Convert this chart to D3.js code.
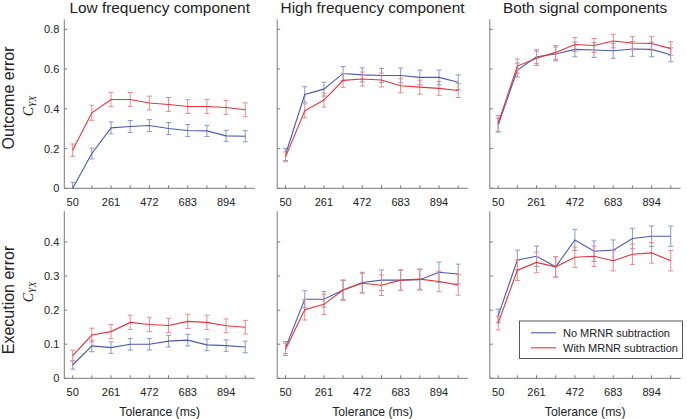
<!DOCTYPE html>
<html><head><meta charset="utf-8">
<script src="https://cdn.jsdelivr.net/npm/d3@7"></script>
<style>body{margin:0;background:#fff}svg{display:block}</style>
</head><body>
<svg id="c" width="687" height="419"></svg>
<script>
// ---- data ----
const tolerance = [50, 155.5, 261, 366.5, 472, 577.5, 683, 788.5, 894, 999.5];
const tickLabels = [50, 261, 472, 683, 894];
const columnTitles = ["Low frequency component", "High frequency component", "Both signal components"];
const rowTitles = ["Outcome error", "Execution error"];
const seriesNames = ["No MRNR subtraction", "With MRNR subtraction"];
const yTicksOutcome = [0, 0.2, 0.4, 0.6, 0.8];
const yTicksExecution = [0, 0.1, 0.2, 0.3, 0.4];

// Outcome error
const outLowNo   = [0.0, 0.175, 0.304, 0.311, 0.316, 0.301, 0.291, 0.289, 0.264, 0.262];
const outLowNoErr= [0.03, 0.027, 0.03, 0.03, 0.03, 0.03, 0.03, 0.028, 0.028, 0.028];
const outLowW    = [0.192, 0.38, 0.447, 0.447, 0.429, 0.422, 0.412, 0.412, 0.407, 0.395];
const outLowWErr = [0.031, 0.038, 0.036, 0.035, 0.035, 0.035, 0.035, 0.035, 0.035, 0.035];
const outHighNo   = [0.17, 0.472, 0.499, 0.578, 0.571, 0.568, 0.568, 0.558, 0.558, 0.534];
const outHighNoErr= [0.03, 0.039, 0.035, 0.035, 0.035, 0.035, 0.037, 0.037, 0.037, 0.037];
const outHighW    = [0.158, 0.39, 0.444, 0.543, 0.55, 0.545, 0.516, 0.509, 0.503, 0.492];
const outHighWErr = [0.025, 0.035, 0.035, 0.035, 0.035, 0.035, 0.035, 0.035, 0.035, 0.035];
const outBothNo   = [0.318, 0.595, 0.662, 0.676, 0.699, 0.696, 0.692, 0.701, 0.699, 0.672];
const outBothNoErr= [0.035, 0.035, 0.035, 0.035, 0.037, 0.037, 0.038, 0.037, 0.037, 0.035];
const outBothW    = [0.326, 0.615, 0.654, 0.684, 0.724, 0.719, 0.741, 0.731, 0.729, 0.703];
const outBothWErr = [0.04, 0.036, 0.036, 0.035, 0.035, 0.035, 0.034, 0.034, 0.034, 0.035];
// Execution error
const exeLowNo   = [0.039, 0.095, 0.09, 0.1, 0.1, 0.109, 0.112, 0.098, 0.096, 0.092];
const exeLowNoErr= [0.012, 0.017, 0.017, 0.017, 0.017, 0.017, 0.017, 0.017, 0.017, 0.017];
const exeLowW    = [0.0665, 0.127, 0.137, 0.164, 0.158, 0.155, 0.167, 0.164, 0.154, 0.15];
const exeLowWErr = [0.016, 0.02, 0.021, 0.021, 0.021, 0.021, 0.021, 0.021, 0.02, 0.02];
const exeHighNo   = [0.09, 0.232, 0.232, 0.259, 0.281, 0.288, 0.288, 0.289, 0.311, 0.306];
const exeHighNoErr= [0.018, 0.025, 0.023, 0.028, 0.03, 0.03, 0.03, 0.03, 0.03, 0.029];
const exeHighW    = [0.085, 0.201, 0.217, 0.259, 0.279, 0.273, 0.288, 0.291, 0.284, 0.274];
const exeHighWErr = [0.018, 0.03, 0.03, 0.03, 0.029, 0.03, 0.03, 0.03, 0.03, 0.03];
const exeBothNo   = [0.183, 0.347, 0.358, 0.327, 0.406, 0.373, 0.376, 0.41, 0.417, 0.417];
const exeBothNoErr= [0.02, 0.029, 0.03, 0.03, 0.031, 0.03, 0.03, 0.03, 0.03, 0.03];
const exeBothW    = [0.162, 0.317, 0.34, 0.327, 0.355, 0.358, 0.345, 0.364, 0.368, 0.345];
const exeBothWErr = [0.02, 0.03, 0.03, 0.03, 0.03, 0.03, 0.03, 0.03, 0.03, 0.03];

const panels = [
  [[outLowNo,outLowNoErr,outLowW,outLowWErr],[outHighNo,outHighNoErr,outHighW,outHighWErr],[outBothNo,outBothNoErr,outBothW,outBothWErr]],
  [[exeLowNo,exeLowNoErr,exeLowW,exeLowWErr],[exeHighNo,exeHighNoErr,exeHighW,exeHighWErr],[exeBothNo,exeBothNoErr,exeBothW,exeBothWErr]]
];

// ---- layout ----
const svg = d3.select("#c");
const font = "'Liberation Sans', Arial, Helvetica, sans-serif";
const colors = ["#4b5ca6", "#e2343f"];
const errColors = ["#8d99c8", "#ec8a90"];
const axisColor = "#7a7a7a";
const colLeft = [64.3, 277.2, 489.8];
const pw = 190.7;
const rowY = [{top: 19.4, bottom: 188.3, max: 0.85, ticks: yTicksOutcome},
              {top: 211.3, bottom: 378.3, max: 0.49, ticks: yTicksExecution}];

const x = d3.scaleLinear().domain([4, 1053]).range([0, pw]);

rowY.forEach((r, ri) => {
  const y = d3.scaleLinear().domain([0, r.max]).range([r.bottom, r.top]);
  colLeft.forEach((cl, ci) => {
    const g = svg.append("g").attr("transform", `translate(${cl},0)`);
    // axes lines
    g.append("line").attr("x1", 0).attr("x2", 0).attr("y1", r.top).attr("y2", r.bottom)
      .attr("stroke", axisColor).attr("stroke-width", 1);
    g.append("line").attr("x1", 0).attr("x2", pw).attr("y1", r.bottom).attr("y2", r.bottom)
      .attr("stroke", axisColor).attr("stroke-width", 1);
    // y ticks (inward)
    r.ticks.forEach(t => {
      g.append("line").attr("x1", 0).attr("x2", 3).attr("y1", y(t)).attr("y2", y(t))
        .attr("stroke", axisColor);
      if (ci === 0) {
        g.append("text").attr("x", -5).attr("y", y(t)).attr("dy", "0.36em")
          .attr("text-anchor", "end").attr("font-family", font).attr("font-size", 11)
          .attr("fill", "#222").text(t === 0 ? "0" : d3.format(".1f")(t));
      }
    });
    // x ticks
    tolerance.forEach(t => {
      g.append("line").attr("x1", x(t)).attr("x2", x(t)).attr("y1", r.bottom).attr("y2", r.bottom - 3)
        .attr("stroke", axisColor);
    });
    tickLabels.forEach(t => {
      g.append("text").attr("x", x(t)).attr("y", r.bottom + 17.5)
        .attr("text-anchor", "middle").attr("font-family", font).attr("font-size", 11)
        .attr("fill", "#222").text(t);
    });
    // series
    const p = panels[ri][ci];
    [0, 1].forEach(si => {
      const vals = p[si * 2], errs = p[si * 2 + 1];
      const pts = tolerance.map((t, i) => ({t, v: vals[i], e: errs[i]}));
      const eg = g.append("g").attr("stroke", errColors[si]).attr("stroke-width", 1);
      pts.forEach(d => {
        const lo = Math.max(0, d.v - d.e), hi = d.v + d.e;
        eg.append("line").attr("x1", x(d.t)).attr("x2", x(d.t)).attr("y1", y(lo)).attr("y2", y(hi));
        if (d.v - d.e >= 0) eg.append("line").attr("x1", x(d.t) - 2.5).attr("x2", x(d.t) + 2.5).attr("y1", y(lo)).attr("y2", y(lo));
        eg.append("line").attr("x1", x(d.t) - 2.5).attr("x2", x(d.t) + 2.5).attr("y1", y(hi)).attr("y2", y(hi));
      });
      g.append("path").datum(pts)
        .attr("d", d3.line().x(d => x(d.t)).y(d => y(d.v)))
        .attr("fill", "none").attr("stroke", colors[si]).attr("stroke-width", 1.1);
    });
    // x label on bottom row
    if (ri === 1) {
      g.append("text").attr("x", pw / 2).attr("y", 415.5).attr("text-anchor", "middle")
        .attr("font-family", font).attr("font-size", 12.2).attr("fill", "#222").text("Tolerance (ms)");
    }
    if (ri === 0) {
      g.append("text").attr("x", pw / 2).attr("y", 12.5).attr("text-anchor", "middle")
        .attr("font-family", font).attr("font-size", 15.4).attr("fill", "#222").text(columnTitles[ci]);
    }
  });
  // row title
  const cy = ri === 0 ? 98 : 300;
  svg.append("text").attr("transform", `translate(13.5,${cy}) rotate(-90)`)
    .attr("text-anchor", "middle").attr("font-family", font).attr("font-size", 16)
    .attr("fill", "#222").text(rowTitles[ri]);
  // C_YX label
  const ly = ri === 0 ? 106 : 292;
  const t = svg.append("text").attr("transform", `translate(33,${ly}) rotate(-90)`)
    .attr("text-anchor", "middle").attr("font-family", "'Liberation Serif', 'DejaVu Serif', serif")
    .attr("font-style", "italic").attr("fill", "#222");
  t.append("tspan").attr("font-size", 14).text("C");
  t.append("tspan").attr("font-size", 9.5).attr("dy", 3).text("YX");
});

// legend
const lg = svg.append("g");
lg.append("rect").attr("x", 519.5).attr("y", 321).attr("width", 163).attr("height", 37.5)
  .attr("fill", "#fff").attr("stroke", "#555").attr("stroke-width", 1);
seriesNames.forEach((n, i) => {
  const yy = 332.8 + i * 15;
  lg.append("line").attr("x1", 531).attr("x2", 556).attr("y1", yy).attr("y2", yy)
    .attr("stroke", colors[i]).attr("stroke-width", 1.1);
  lg.append("text").attr("x", 563).attr("y", yy).attr("dy", "0.36em")
    .attr("font-family", font).attr("font-size", 11).attr("fill", "#222").text(n);
});
</script>
</body></html>
